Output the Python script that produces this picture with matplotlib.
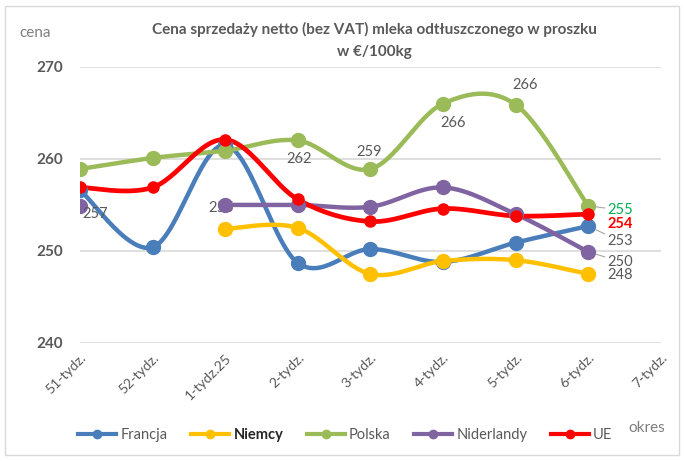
import numpy as np
import matplotlib
matplotlib.use("Agg")
import matplotlib.pyplot as plt
from matplotlib.lines import Line2D
from matplotlib.patches import Rectangle

plt.rcParams['font.family'] = ['Lato', 'DejaVu Sans']

# data (None = no value)
weeks = ['51-tydz.', '52-tydz.', '1-tydz.25', '2-tydz.', '3-tydz.',
         '4-tydz.', '5-tydz.', '6-tydz.', '7-tydz.']
francja = [256.6, 250.4, 261.5, 248.7, 250.2, 248.8, 250.9, 252.7, None]
niemcy = [None, None, 252.4, 252.5, 247.5, 248.9, 249.0, 247.5, None]
polska = [258.9, 260.1, 260.9, 262.0, 258.9, 266.0, 265.9, 254.9, None]
niderlandy = [254.9, None, 255.0, 255.0, 254.8, 256.9, 254.0, 249.9, None]
ue = [256.9, 256.9, 262.1, 255.6, 253.2, 254.6, 253.8, 254.0, None]

names = ['Francja', 'Niemcy', 'Polska', 'Niderlandy', 'UE']
colors = ['#4a7ebb', '#ffc000', '#9bbb59', '#8064a2', '#ff0000']
series = [francja, niemcy, polska, niderlandy, ue]

GRAY = '#595959'


def smooth(xs, ys, n=30):
    # Excel-like smoothed line (cubic Bezier, Catmull-Rom control points)
    if len(xs) < 2:
        return np.array(xs, float), np.array(ys, float)
    P = np.column_stack([xs, ys]).astype(float)
    out = []
    for i in range(len(P) - 1):
        p0 = P[i - 1] if i > 0 else P[i]
        p1, p2 = P[i], P[i + 1]
        p3 = P[i + 2] if i + 2 < len(P) else P[i + 1]
        c1 = p1 + (p2 - p0) / 6
        c2 = p2 - (p3 - p1) / 6
        t = np.linspace(0, 1, n)[:, None]
        seg = ((1 - t) ** 3 * p1 + 3 * (1 - t) ** 2 * t * c1
               + 3 * (1 - t) * t ** 2 * c2 + t ** 3 * p2)
        out.append(seg if i == 0 else seg[1:])
    seg = np.vstack(out)
    return seg[:, 0], seg[:, 1]


fig = plt.figure(figsize=(6.84, 4.61), dpi=100)
ax = fig.add_axes([0.117, 0.256, 0.849, 0.599])

x = np.arange(len(weeks))
for vals, c, name in zip(series, colors, names):
    # split into runs without gaps
    runs, cur = [], []
    for xi, v in zip(x, vals):
        if v is None:
            if cur:
                runs.append(cur)
            cur = []
        else:
            cur.append((xi, v))
    if cur:
        runs.append(cur)
    lw = 3.2 if name != 'UE' else 3.4
    ms = 10 if name != 'UE' else 8
    for r in runs:
        rx = [p[0] for p in r]
        ry = [p[1] for p in r]
        sx, sy = smooth(rx, ry)
        ax.plot(sx, sy, color=c, lw=lw, solid_capstyle='round', zorder=3)
        ax.plot(rx, ry, 'o', color=c, ms=ms, zorder=4)

# data labels
def lab(vals, i, dx, dy, color=GRAY, weight='normal', z=5, leader=False):
    ax.annotate(f'{vals[i]:.0f}', (x[i], vals[i]), xytext=(dx, dy),
                textcoords='offset points', color=color, fontsize=10.5,
                fontweight=weight, ha='left', va='center', zorder=z,
                arrowprops=dict(arrowstyle='-', color='#a6a6a6', lw=0.8,
                                shrinkA=0, shrinkB=6) if leader else None)

lab(ue, 0, 2, -19)
lab(niderlandy, 2, -12, -2, z=2)
lab(polska, 3, -8, -13)
lab(polska, 4, -10, 12)
lab(polska, 5, -2, -14)
lab(polska, 6, -2, 14)
lab(polska, 7, 14, -3, color='#00b050', leader=True)
lab(ue, 7, 14, -7, color='#ff0000', weight='bold')
lab(francja, 7, 14, -11, leader=True)
lab(niderlandy, 7, 14, -7, leader=True)
lab(niemcy, 7, 14, -1)

ax.set_xlim(0, len(weeks) - 1)
ax.set_ylim(240, 270)
ax.set_yticks([240, 250, 260, 270])
ax.set_xticks(x)
ax.set_xticklabels(weeks, rotation=45, ha='right', rotation_mode='anchor',
                   color=GRAY, fontsize=10)
for t in ax.get_yticklabels():
    t.set_fontweight('bold')
    t.set_color(GRAY)
    t.set_fontsize(11)
ax.tick_params(length=0, pad=12)
ax.tick_params(axis='x', pad=6)
ax.grid(axis='y', color='#d9d9d9', lw=1.2)
ax.set_axisbelow(True)
for s in ax.spines.values():
    s.set_visible(False)

fig.text(0.548, 0.935, 'Cena sprzedaży netto (bez VAT) mleka odtłuszczonego w proszku',
         ha='center', va='center', fontsize=11, fontweight='bold', color=GRAY)
fig.text(0.548, 0.887, 'w €/100kg', ha='center', va='center', fontsize=11,
         fontweight='bold', color=GRAY)
fig.text(0.051, 0.928, 'cena', ha='center', va='center', fontsize=11, color='#7f7f7f')
fig.text(0.945, 0.072, 'okres', ha='center', va='center', fontsize=11, color='#7f7f7f')

handles = [Line2D([], [], color=c, lw=3, marker='o', ms=6) for c in colors]
leg = fig.legend(handles, names, loc='center', bbox_to_anchor=(0.505, 0.057),
                 ncol=5, frameon=False, fontsize=10.5, handlelength=2.6,
                 handletextpad=0.3, columnspacing=1.6)
for t in leg.get_texts():
    t.set_color(GRAY)
leg.get_texts()[1].set_fontweight('bold')
leg.get_texts()[1].set_color('#262626')

fig.patches.append(Rectangle((0.008, 0.012), 0.985, 0.976, transform=fig.transFigure,
                             fill=False, edgecolor='#d9d9d9', lw=1))

fig.savefig('out.png', dpi=100)
